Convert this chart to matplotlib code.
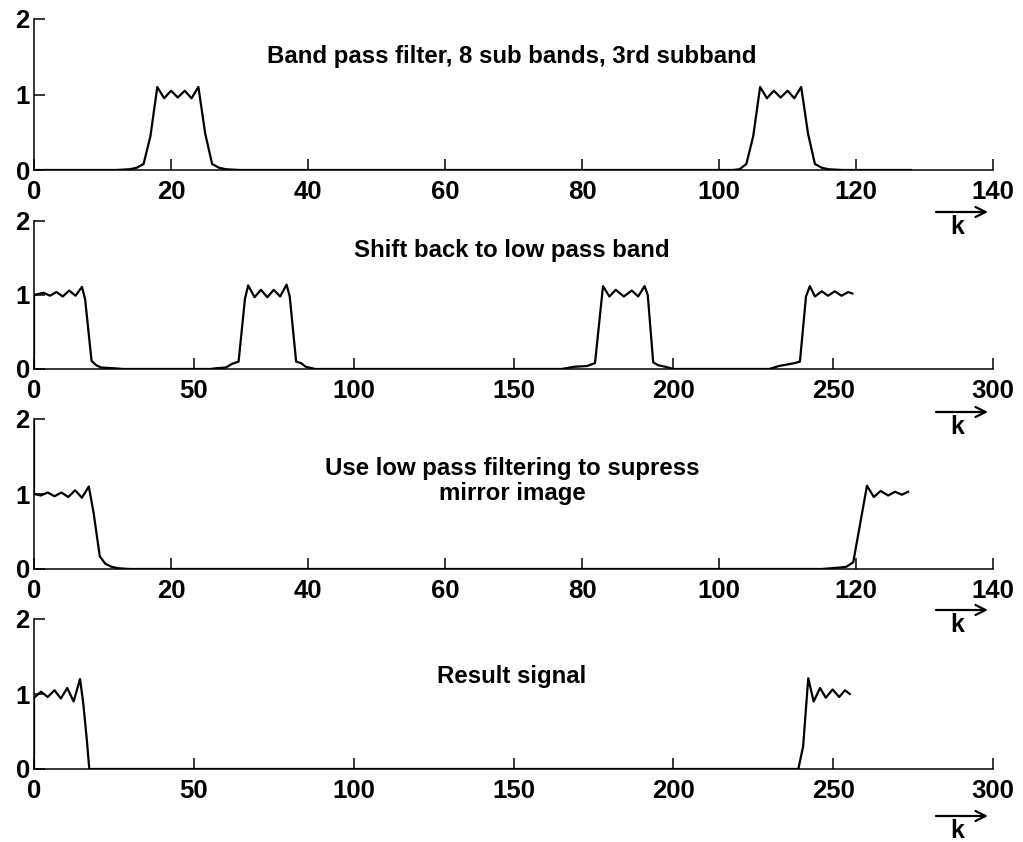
import matplotlib
matplotlib.use("Agg")
import matplotlib.pyplot as plt

plt.rcParams['font.family'] = ['Liberation Sans', 'DejaVu Sans']

# panel 1: band pass filter response (vertices)
k1 = [0, 12, 14, 15, 16, 17, 18, 19, 20, 21, 22, 23, 24, 25, 26, 27, 28, 30,
      102, 103, 104, 105, 106, 107, 108, 109, 110, 111, 112, 113, 114, 115, 116, 118, 128]
v1 = [0, 0, 0.01, 0.03, 0.08, 0.45, 1.1, 0.95, 1.05, 0.96, 1.05, 0.95, 1.1, 0.48, 0.08, 0.03, 0.01, 0,
      0, 0.01, 0.08, 0.45, 1.1, 0.95, 1.05, 0.96, 1.05, 0.95, 1.1, 0.48, 0.08, 0.03, 0.01, 0, 0]

# panel 2: shifted back to low pass band
k2 = [0, 0, 3, 5, 7, 9, 11, 13, 15, 16, 18, 19.5, 21, 25, 28,
      55, 57, 60, 62, 64, 66, 67, 69, 71, 73, 75, 77, 79, 80, 82, 83.5, 85, 88,
      165, 169, 173, 175.5, 178, 180, 182, 184.5, 187, 189, 191, 192, 193.7, 195.3, 197.5, 200,
      230, 233, 238, 239.6, 241.5, 242.7, 244.3, 246.4, 248.4, 250.5, 252.6, 254.7, 256]
v2 = [0, 1.0, 1.03, 0.99, 1.04, 0.98, 1.06, 0.99, 1.11, 0.94, 0.11, 0.05, 0.02, 0.01, 0,
      0, 0.01, 0.02, 0.07, 0.1, 0.95, 1.13, 0.97, 1.07, 0.97, 1.07, 0.98, 1.14, 0.98, 0.1, 0.08, 0.03, 0,
      0, 0.03, 0.04, 0.08, 1.12, 0.98, 1.07, 0.98, 1.06, 0.98, 1.12, 1.0, 0.09, 0.05, 0.03, 0,
      0, 0.04, 0.08, 0.1, 0.98, 1.12, 0.98, 1.05, 0.99, 1.05, 0.99, 1.04, 1.02]

# panel 3: after low pass filtering
k3 = [0, 0, 1, 2, 3, 4, 5, 6, 7, 8, 8.7, 9.6, 10.4, 11.3, 12.3, 14,
      115, 117.7, 118.6, 119.6, 121.6, 122.6, 123.6, 124.7, 125.7, 126.7, 127.6]
v3 = [2.0, 1.0, 0.98, 1.02, 0.97, 1.02, 0.96, 1.05, 0.95, 1.1, 0.75, 0.17, 0.07, 0.03, 0.01, 0,
      0, 0.02, 0.03, 0.09, 1.11, 0.96, 1.04, 0.98, 1.03, 0.99, 1.03]

# panel 4: result signal
k4 = [0, 0, 2.2, 4.3, 6.4, 8.4, 10.4, 12.4, 14.4, 15.4, 16.5, 17.3,
      239.1, 240.6, 242.2, 243.9, 245.9, 247.7, 249.8, 251.9, 253.7, 255.2]
v4 = [0, 0.95, 1.03, 0.96, 1.05, 0.94, 1.08, 0.9, 1.2, 0.88, 0.4, 0,
      0, 0.3, 1.21, 0.9, 1.08, 0.95, 1.06, 0.96, 1.05, 1.0]

titles = ["Band pass filter, 8 sub bands, 3rd subband",
          "Shift back to low pass band",
          "Use low pass filtering to supress\nmirror image",
          "Result signal"]
xmax = [140, 300, 140, 300]
xstep = [20, 50, 20, 50]
series = [(k1, v1), (k2, v2), (k3, v3), (k4, v4)]

W, H = 1023, 842
fig = plt.figure(figsize=(W / 100, H / 100), dpi=100)

# pixel layout (from top): zero line and top of each panel
y0_px = [170, 369, 569, 769]
ytop_px = [19, 221, 419, 619]
title_px = [57, 250, 481, 677]
arrow_off = [42, 43, 41, 47]
x_left, x_right = 34, 993

for i in range(4):
    rect = [x_left / W, 1 - y0_px[i] / H, (x_right - x_left) / W, (y0_px[i] - ytop_px[i]) / H]
    ax = fig.add_axes(rect)
    k, v = series[i]
    ax.plot(k, v, color='black', lw=1.6, clip_on=True)
    ax.set_xlim(0, xmax[i])
    ax.set_ylim(0, 2)
    ax.set_xticks(range(0, xmax[i] + 1, xstep[i]))
    ax.set_yticks([0, 1, 2])
    for s in ['top', 'right']:
        ax.spines[s].set_visible(False)
    for s in ['left', 'bottom']:
        ax.spines[s].set_linewidth(1.1)
        ax.spines[s].set_color('black')
    ax.tick_params(direction='in', length=8, width=1.1, labelsize=18.5, pad=7)
    ax.tick_params(axis='y', pad=3)
    for lab in ax.get_xticklabels() + ax.get_yticklabels():
        lab.set_fontweight('bold')

    fig.text(512 / W, 1 - title_px[i] / H, titles[i], ha='center', va='center',
             fontsize=17.3, fontweight='bold', linespacing=1.12)

    ya = H - (y0_px[i] + arrow_off[i])
    ax.annotate('', xy=(988, ya), xytext=(936, ya), xycoords='figure pixels',
                textcoords='figure pixels', annotation_clip=False,
                arrowprops=dict(arrowstyle='->', lw=1.6, color='black',
                                shrinkA=0, shrinkB=0, mutation_scale=18))
    fig.text(957 / W, (ya - 15) / H, 'k', ha='center', va='center',
             fontsize=18, fontweight='bold')

fig.savefig('out.png', dpi=100)
